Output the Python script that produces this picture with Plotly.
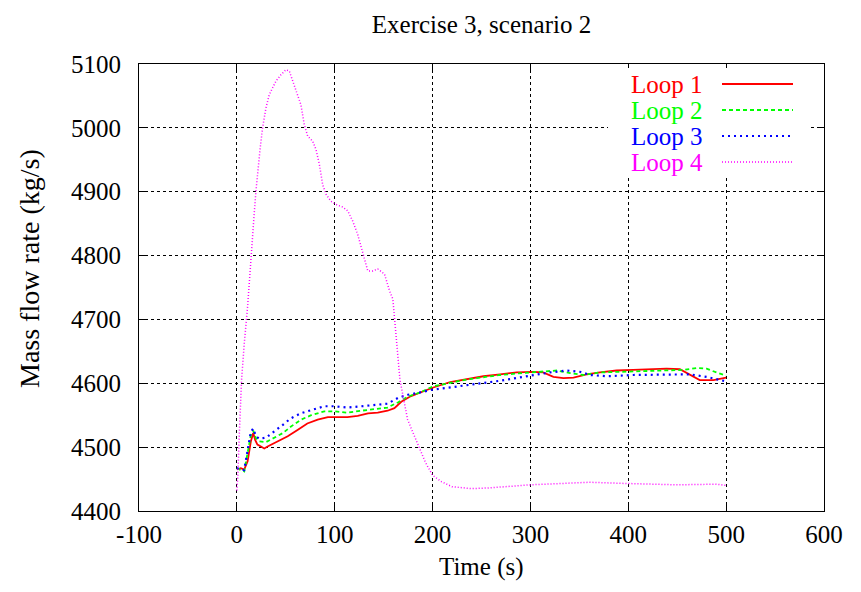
import plotly.graph_objects as go

# ---- data ----
t1 = [0, 4, 7.5, 11, 14.3, 16.7, 18.8, 21, 24.6, 28, 31.4, 38, 45, 52, 62, 72, 82.6, 93, 103, 113,
      123.5, 134, 144, 154, 161, 168, 178, 188, 200, 218, 235, 252, 269, 286, 303, 313, 323.5, 333.7,
      344, 357.5, 371, 388, 405, 422, 439, 452.7, 463, 473, 487, 500]
loop1 = [4465, 4467, 4465, 4478, 4509, 4522, 4511, 4504, 4501, 4498, 4501, 4506, 4511, 4517, 4527, 4537,
         4543, 4547, 4547, 4547, 4549, 4553, 4554, 4557, 4561, 4571, 4580, 4586, 4593, 4602, 4607, 4611,
         4614, 4617, 4618, 4617, 4610, 4608, 4609, 4614, 4617, 4620, 4621, 4622, 4623, 4622, 4613, 4605,
         4605, 4609]

t2 = [0, 7.5, 14.3, 16.7, 19.5, 23, 30, 38, 47, 55, 65.5, 76, 89.4, 99.7, 113, 127, 140.6, 154, 164.5,
      174.7, 188, 200, 235, 269, 299.7, 313, 327, 340.5, 354, 371, 405, 439, 456, 470, 480, 490, 500]
loop2 = [4467, 4462, 4519, 4526, 4514, 4509, 4508, 4514, 4522, 4532, 4543, 4550, 4556, 4556, 4554, 4557,
         4560, 4562, 4570, 4579, 4586, 4595, 4606, 4613, 4617, 4618, 4620, 4616, 4613, 4617, 4619, 4621,
         4621, 4624, 4623, 4617, 4612]

t3 = [0, 7.5, 14.3, 16.7, 19.5, 23, 30, 38, 47, 55, 65.5, 76, 89.4, 99.7, 113, 127, 140.6, 154, 164.5,
      174.7, 188, 200, 235, 269, 300, 320, 337, 350.7, 361, 378, 405, 439, 463, 480, 493.5, 500]
loop3 = [4467, 4464, 4524, 4529, 4517, 4513, 4515, 4524, 4535, 4545, 4553, 4558, 4564, 4564, 4562, 4564,
         4566, 4568, 4577, 4582, 4586, 4590, 4597, 4604, 4612, 4617, 4620, 4618, 4613, 4611, 4613, 4614,
         4614, 4610, 4605, 4603]

t4 = [0, 1, 2.5, 4.8, 7.5, 9.2, 10.9, 12.6, 14.3, 16, 17.7, 19.5, 21.2, 23.9, 26.3, 29.7, 33.1, 36.5,
      39.9, 45, 50.2, 53.6, 57, 60.4, 65.5, 68.9, 72.4, 77.5, 80.9, 84.3, 87.7, 91.1, 96.2, 101.4, 108.2,
      113.3, 118.4, 123.5, 128.7, 133.8, 138.9, 144, 150.9, 156, 159.4, 161.1, 163.8, 166.7, 174.5,
      183.6, 192.7, 200, 209, 220, 240, 256, 300, 330, 360, 400, 450, 490, 500]
loop4 = [4432, 4455, 4520, 4605, 4661, 4687, 4719, 4755, 4797, 4833, 4865, 4901, 4932, 4969, 5000, 5031,
         5052, 5062, 5073, 5083, 5091, 5089, 5073, 5057, 5036, 5005, 4987, 4979, 4966, 4943, 4911, 4896,
         4885, 4880, 4876, 4870, 4854, 4833, 4802, 4776, 4776, 4779, 4771, 4745, 4732, 4703, 4656, 4605,
         4543, 4509, 4476, 4456, 4446, 4438, 4435, 4436, 4441, 4443, 4445, 4443, 4441, 4442, 4440]

names = ["Loop 1", "Loop 2", "Loop 3", "Loop 4"]
colors = ["#ff0000", "#00ff00", "#0000ff", "#ff00ff"]
dashes = ["solid", "4px,3px", "2px,4px", "1px,2px"]
widths = [1.8, 1.8, 2.2, 1.5]

xticks = [-100, 0, 100, 200, 300, 400, 500, 600]
yticks = [4400, 4500, 4600, 4700, 4800, 4900, 5000, 5100]

FONT = "Liberation Serif, Times New Roman, serif"
FS = 25

W, H = 861, 592
L, R, T, B = 139, 824, 64, 511   # plot area in pixels


def px(x):
    return (x - L) / (R - L)


def py(y):
    return (B - y) / (B - T)


fig = go.Figure()
for tx, ys, n, c, d, w in zip([t1, t2, t3, t4], [loop1, loop2, loop3, loop4], names, colors, dashes, widths):
    fig.add_trace(go.Scatter(x=tx, y=ys, name=n, mode="lines",
                             line=dict(color=c, dash=d, width=w), showlegend=False))

axis_common = dict(showline=True, linecolor="black", linewidth=1, mirror="ticks",
                   ticks="inside", ticklen=7, tickcolor="black", showgrid=True,
                   gridcolor="black", griddash="dot", gridwidth=1, zeroline=False,
                   tickfont=dict(family=FONT, size=FS, color="black"))

fig.update_layout(
    width=W, height=H,
    margin=dict(l=L, r=W - R, t=T, b=H - B),
    paper_bgcolor="white", plot_bgcolor="white",
    title=dict(text="Exercise 3, scenario 2", x=px(481.5), xref="paper", xanchor="center",
               y=1 - 24 / H, yref="container", yanchor="middle",
               font=dict(family=FONT, size=FS, color="black")),
    xaxis=dict(range=[-100, 600], tickvals=xticks, ticktext=[str(v) for v in xticks],
               ticklabelstandoff=1, **axis_common),
    yaxis=dict(range=[4400, 5100], tickvals=yticks, ticktext=[str(v) for v in yticks],
               ticklabelstandoff=12, **axis_common),
    showlegend=False,
)

# axis titles
fig.add_annotation(text="Time (s)", xref="paper", yref="paper", x=px(481.5), y=py(567),
                   xanchor="center", yanchor="middle", showarrow=False,
                   font=dict(family=FONT, size=FS, color="black"))
fig.add_annotation(text="Mass flow rate (kg/s)", xref="paper", yref="paper", x=px(29), y=py(269),
                   xanchor="center", yanchor="middle", showarrow=False, textangle=-90,
                   font=dict(family=FONT, size=28, color="black"))

# legend (gnuplot style: right-aligned coloured text, sample line to the right)
fig.add_shape(type="rect", xref="paper", yref="paper",
              x0=px(608), x1=px(810), y0=py(176), y1=py(68),
              fillcolor="white", line=dict(width=0), layer="above")
for i, (n, c, d, w) in enumerate(zip(names, colors, dashes, widths)):
    yp = py(84 + i * 26)
    fig.add_annotation(text=n, xref="paper", yref="paper", x=px(705), y=yp,
                       xanchor="right", yanchor="middle", showarrow=False,
                       font=dict(family=FONT, size=FS, color=c))
    fig.add_shape(type="line", xref="paper", yref="paper", x0=px(722), x1=px(793),
                  y0=yp, y1=yp, line=dict(color=c, dash=d, width=w), layer="above")

fig.write_html("out.html")
